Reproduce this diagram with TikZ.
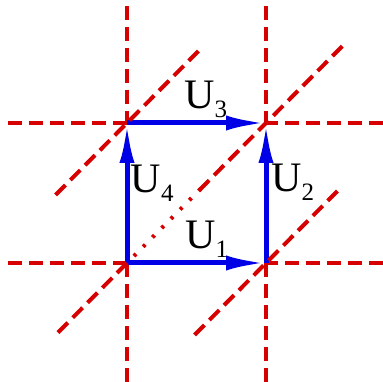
\documentclass[tikz,border=0pt]{standalone}
\usepackage{fontspec}
\setmainfont{Liberation Serif}
\usetikzlibrary{arrows.meta,calc}
\definecolor{myred}{RGB}{214,0,0}
\definecolor{myblue}{RGB}{0,0,230}
\tikzset{
  grid/.style={draw=myred,line width=4pt,dash pattern=on 14pt off 7pt},
  dotline/.style={draw=myred,line width=4pt,dash pattern=on 3pt off 10.1pt},
  vec/.style={draw=myblue,line width=5pt,-{Latex[length=40pt,width=15pt]}},
  lab/.style={anchor=base west,inner sep=0pt}
}
\newcommand{\lbl}[1]{\fontsize{42}{46}\selectfont U\raisebox{-9pt}{\fontsize{25}{28}\selectfont #1}}
\begin{document}
\begin{tikzpicture}[x=1pt,y=-1pt]
\useasboundingbox (0,0) rectangle (383,382);
\coordinate (A) at (127,263);
\coordinate (B) at (266,263);
\coordinate (C) at (266,123);
\coordinate (D) at (127,123);
\coordinate (vAt) at (127,6);  \coordinate (vAb) at (127,382);
\coordinate (vBt) at (266,6);  \coordinate (vBb) at (266,382);
\coordinate (hDl) at (8,123);  \coordinate (hDr) at (383,123);
\coordinate (hAl) at (8,263);  \coordinate (hAr) at (383,263);
% grid lines
\draw[grid] (vAt) -- (D);
\draw[grid] (vAb) -- (A);
\draw[grid] (vBt) -- (C);
\draw[grid] (vBb) -- (B);
\draw[grid] (hDl) -- (D);
\draw[grid] (hDr) -- (C);
\draw[grid] (hAl) -- (A);
\draw[grid] (hAr) -- (B);
% vectors
\draw[vec] (A) -- (B);
\draw[vec] (B) -- (C);
\draw[vec] (D) -- (C);
\draw[vec] (A) -- (D);
% diagonals
\coordinate (d1a) at ($(A)!-0.497!(C)$);
\coordinate (d1m) at ($(A)!0.52!(C)$);
\coordinate (d1b) at ($(A)!1.549!(C)$);
\draw[grid] (A) -- (d1a);
\draw[dotline] ($(A)!0.05!(C)$) -- ($(A)!0.53!(C)$);
\draw[grid] (d1m) -- (d1b);
\coordinate (d2a) at ($(D)+($(A)!-0.514!(C)-(A)$)$);
\coordinate (d2b) at ($(D)+($(A)!0.514!(C)-(A)$)$);
\draw[grid] (d2a) -- (d2b);
\coordinate (d3a) at ($(B)+($(A)!-0.514!(C)-(A)$)$);
\coordinate (d3b) at ($(B)+($(A)!0.514!(C)-(A)$)$);
\draw[grid] (d3a) -- (d3b);
% labels
\node[lab] (u3) at (184,109) {\lbl{3}};
\node[lab] (u1) at (185,249) {\lbl{1}};
\node[lab] (u4) at (130.5,193) {\lbl{4}};
\node[lab] (u2) at (271,192) {\lbl{2}};
\end{tikzpicture}
\end{document}
